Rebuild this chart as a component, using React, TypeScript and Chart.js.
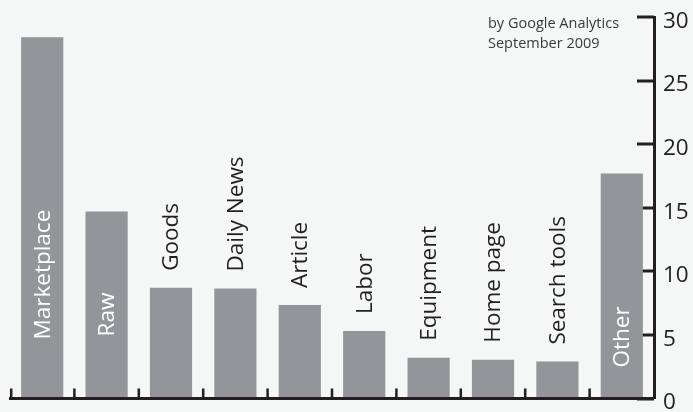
import React, { useEffect, useRef } from "react";
import { Chart, registerables } from "chart.js";

Chart.register(...registerables);

const categories = [
  "Marketplace",
  "Raw",
  "Goods",
  "Daily News",
  "Article",
  "Labor",
  "Equipment",
  "Home page",
  "Search tools",
  "Other",
];
const values = [28.4, 14.7, 8.7, 8.65, 7.35, 5.3, 3.2, 3.05, 2.9, 17.7];
const yTicks = [0, 5, 10, 15, 20, 25, 30];
const notes = ["by Google Analytics", "September 2009"];

const FONT = '"Open Sans", sans-serif';
const INK = "#231f20";
const BAR = "#939598";
const BG = "#f5f6f6";
const INSIDE_THRESHOLD = 12;
// distance (px) from the baseline where inside labels start, per bar
const insideLift: Record<number, number> = { 0: 59, 1: 62, 9: 31 };

const customPlugin = {
  id: "customAxes",
  beforeDatasetsDraw(chart: any) {
    const { ctx, chartArea, scales } = chart;
    const y = scales.y;
    ctx.save();
    ctx.strokeStyle = INK;
    ctx.lineWidth = 3;
    y.ticks.forEach((t: any) => {
      const py = Math.round(y.getPixelForValue(t.value));
      ctx.beginPath();
      ctx.moveTo(chartArea.right - 17, py);
      ctx.lineTo(chartArea.right, py);
      ctx.stroke();
    });
    ctx.restore();
  },
  afterDatasetsDraw(chart: any) {
    const { ctx, chartArea, scales } = chart;
    const x = scales.x;
    const y = scales.y;
    const base = y.getPixelForValue(0);
    ctx.save();
    ctx.strokeStyle = INK;
    ctx.lineWidth = 3;
    ctx.beginPath();
    ctx.moveTo(chartArea.left - 1, base);
    ctx.lineTo(chartArea.right, base);
    ctx.stroke();
    const step = x.getPixelForValue(1) - x.getPixelForValue(0);
    ctx.lineWidth = 2.5;
    for (let i = 0; i < categories.length; i++) {
      const px = x.getPixelForValue(i) - step / 2 + (i === 0 ? 1.2 : 0);
      ctx.beginPath();
      ctx.moveTo(px, base);
      ctx.lineTo(px, base - 10);
      ctx.stroke();
    }

    // bar labels
    const meta = chart.getDatasetMeta(0);
    ctx.font = `22.5px ${FONT}`;
    ctx.textBaseline = "middle";
    ctx.textAlign = "left";
    meta.data.forEach((bar: any, i: number) => {
      const v = values[i];
      const inside = v > INSIDE_THRESHOLD;
      const startY = inside ? base - (insideLift[i] ?? 40) : bar.y - 17;
      ctx.save();
      ctx.translate(bar.x + 1, startY);
      ctx.rotate(-Math.PI / 2);
      ctx.fillStyle = inside ? "#ffffff" : INK;
      ctx.fillText(categories[i], 0, 0);
      ctx.restore();
    });

    // notes
    ctx.font = `14.5px ${FONT}`;
    ctx.fillStyle = "#3a3a3a";
    ctx.textBaseline = "alphabetic";
    notes.forEach((n, i) => {
      ctx.fillText(n, chartArea.right - 166, 28 + i * 20);
    });
    ctx.restore();
  },
};

export default function App() {
  const ref = useRef<HTMLCanvasElement | null>(null);

  useEffect(() => {
    document.body.style.margin = "0";
    document.body.style.background = BG;
    if (!ref.current) return;
    const chart = new Chart(ref.current, {
      type: "bar",
      data: {
        labels: categories,
        datasets: [
          {
            data: values,
            backgroundColor: BAR,
            borderWidth: 0,
            categoryPercentage: 1,
            barPercentage: 0.655,
          },
        ],
      },
      options: {
        animation: false,
        responsive: false,
        maintainAspectRatio: false,
        layout: { padding: { top: 17, left: 10, bottom: 13.5, right: 0 } },
        plugins: {
          legend: { display: false },
          tooltip: { enabled: false },
          title: { display: false },
        },
        scales: {
          x: { display: false },
          y: {
            position: "right",
            min: 0,
            max: 30,
            afterBuildTicks: (scale: any) => {
              scale.ticks = yTicks.map((v) => ({ value: v }));
            },
            afterFit: (scale: any) => {
              scale.width = 39;
              scale.paddingTop = 0;
              scale.paddingBottom = 0;
            },
            grid: { display: false, drawTicks: false },
            border: { display: true, color: INK, width: 3 },
            ticks: {
              color: INK,
              font: { family: FONT, size: 22.5 },
              padding: 9,
              labelOffset: 4.5,
            },
          },
        },
      },
      plugins: [customPlugin],
    });
    return () => chart.destroy();
  }, []);

  return (
    <div
      style={{
        position: "fixed",
        left: 0,
        top: 0,
        width: 693,
        height: 412,
        background: BG,
      }}
    >
      <canvas ref={ref} width={693} height={412} style={{ display: "block" }} />
    </div>
  );
}
